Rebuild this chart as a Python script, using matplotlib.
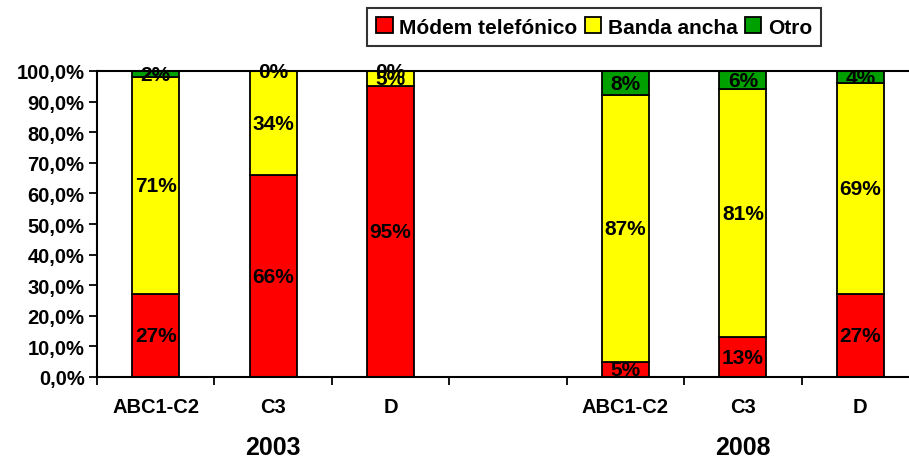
import numpy as np
import matplotlib.pyplot as plt
from matplotlib.transforms import blended_transform_factory

plt.rcParams['font.family'] = ['Liberation Sans', 'DejaVu Sans']
plt.rcParams['font.weight'] = 'bold'

# data (percent)
years = ['2003', '2008']
groups = ['ABC1-C2', 'C3', 'D']
series = ['Módem telefónico', 'Banda ancha', 'Otro']
colors = ['#FF0000', '#FFFF00', '#00A000']
modem = [27, 66, 95, 5, 13, 27]
banda = [71, 34, 5, 87, 81, 69]
otro = [2, 0, 0, 8, 6, 4]
yticks = [0, 10, 20, 30, 40, 50, 60, 70, 80, 90, 100]

def main():
    fig = plt.figure(figsize=(9.09, 4.6), dpi=100)
    ax = fig.add_axes([97/909, 82/460, 822/909, 306/460])
    #
    # slots 0,1,2 for 2003, slot 3 empty, 4,5,6 for 2008
    xpos = np.array([0, 1, 2, 4, 5, 6]) + 0.5
    bottom = np.zeros(len(xpos))
    for vals, name, col in zip([modem, banda, otro], series, colors):
        vals = np.array(vals, dtype=float)
        ax.bar(xpos, vals, width=0.4, bottom=bottom, color=col,
               edgecolor='black', linewidth=1.3, label=name)
        for x, b, v in zip(xpos, bottom, vals):
            ax.text(x, b + v/2, f'{int(round(v))}%', ha='center', va='center',
                    fontsize=15, fontweight='bold', color='black')
        bottom += vals
    #
    ax.set_xlim(0, 7)
    ax.set_ylim(0, 100)
    ax.set_yticks(yticks)
    ax.set_yticklabels([f'{v:.1f}%'.replace('.', ',') for v in yticks],
                       fontsize=14.5, fontweight='bold')
    ax.tick_params(axis='y', direction='out', length=6, width=1.3, pad=3)
    ax.set_xticks(np.arange(0, 8))
    ax.set_xticklabels([])
    ax.tick_params(axis='x', direction='out', length=6, width=1.3)
    #
    tr = blended_transform_factory(ax.transData, fig.transFigure)
    for x, g in zip(xpos, groups + groups):
        ax.text(x, 1 - 408/460, g, transform=tr, ha='center', va='center',
                fontsize=14.5, fontweight='bold')
    for x, yr in zip([1.5, 5.5], years):
        ax.text(x, 1 - 448/460, yr, transform=tr, ha='center', va='center',
                fontsize=18, fontweight='bold')
    #
    for s in ['left', 'bottom', 'top']:
        ax.spines[s].set_linewidth(1.5)
    ax.spines['right'].set_visible(False)
    #
    leg = fig.legend(loc='upper left', bbox_to_anchor=(367/909, 1 - 9/460),
                     ncol=3, fontsize=15, frameon=True, fancybox=False,
                     handlelength=0.8, handleheight=0.8, handletextpad=0.3,
                     columnspacing=0.35, borderpad=0.45, borderaxespad=0)
    leg.get_frame().set_edgecolor('black')
    leg.get_frame().set_linewidth(1.5)
    for t in leg.get_texts():
        t.set_fontweight('bold')
    for h in leg.legend_handles:
        h.set_edgecolor('black')
        h.set_linewidth(1.3)
    #
    plt.savefig('out.png', dpi=100)
    plt.close()

if __name__ == "__main__":
    main()
